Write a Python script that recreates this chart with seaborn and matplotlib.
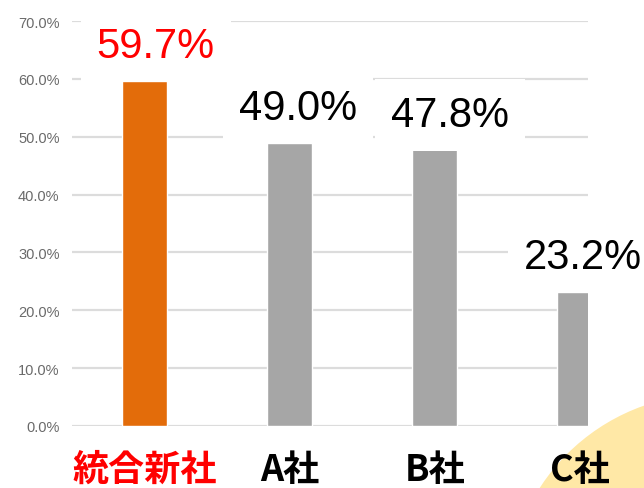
import numpy as np
import pandas as pd
import seaborn as sns
import matplotlib.pyplot as plt
from matplotlib.patches import Circle

# Data
companies = ['統合新社', 'A社', 'B社', 'C社']
shares = [59.7, 49.0, 47.8, 23.2]
bar_colors = ['#E36C0A', '#A6A6A6', '#A6A6A6', '#A6A6A6']
label_colors = ['#FF0000', '#000000', '#000000', '#000000']
y_ticks = [0, 10, 20, 30, 40, 50, 60, 70]

df = pd.DataFrame({'company': companies, 'share': shares})

sns.set_style('white')
plt.rcParams['font.family'] = ['Noto Sans CJK JP', 'DejaVu Sans']

fig = plt.figure(figsize=(6.44, 4.89), dpi=100)
ax = fig.add_axes([0.1118, 0.1268, 0.8012, 0.8282])

sns.barplot(data=df, x='company', y='share', hue='company',
            palette=bar_colors, legend=False, dodge=False,
            width=0.31, saturation=1, ax=ax)

ax.set_ylim(0, 70)
ax.set_xlim(-0.5, 3.055)
ax.set_yticks(y_ticks)
ax.set_yticklabels([f'{v:.1f}%' for v in y_ticks], color='#6a6a6a',
                   fontsize=10.5, family=['Liberation Sans', 'DejaVu Sans'])
ax.yaxis.grid(True, color='#dcdcdc', linewidth=1.6)
ax.set_axisbelow(True)
for s in ax.spines.values():
    s.set_visible(False)
ax.tick_params(axis='y', length=0, pad=9)
ax.tick_params(axis='x', length=0, pad=18)
ax.set_xlabel('')
ax.set_ylabel('')

# category labels
for lab, c in zip(ax.get_xticklabels(), label_colors):
    lab.set_color(c)
    lab.set_fontsize(26)
    lab.set_fontweight('bold')

# value labels (small horizontal nudges as in the original)
nudges = [8, 6, 11, 2]
for i, (v, c) in enumerate(zip(shares, label_colors)):
    ax.annotate(f'{v:.1f}%', xy=(i, v + 6.0), xytext=(nudges[i], 0),
                textcoords='offset points', ha='center', va='center',
                fontsize=30, color=c, family=['Liberation Sans', 'DejaVu Sans'],
                bbox=dict(boxstyle='square,pad=0.38', fc='white', ec='white', lw=0),
                annotation_clip=False, clip_on=False)

# decorative circle in the corner
fig.patches.append(Circle((7.12, -1.11), 2.05, transform=fig.dpi_scale_trans,
                          facecolor='#FFE8A6', edgecolor='none', zorder=-1))

fig.savefig('out.png', dpi=100)
